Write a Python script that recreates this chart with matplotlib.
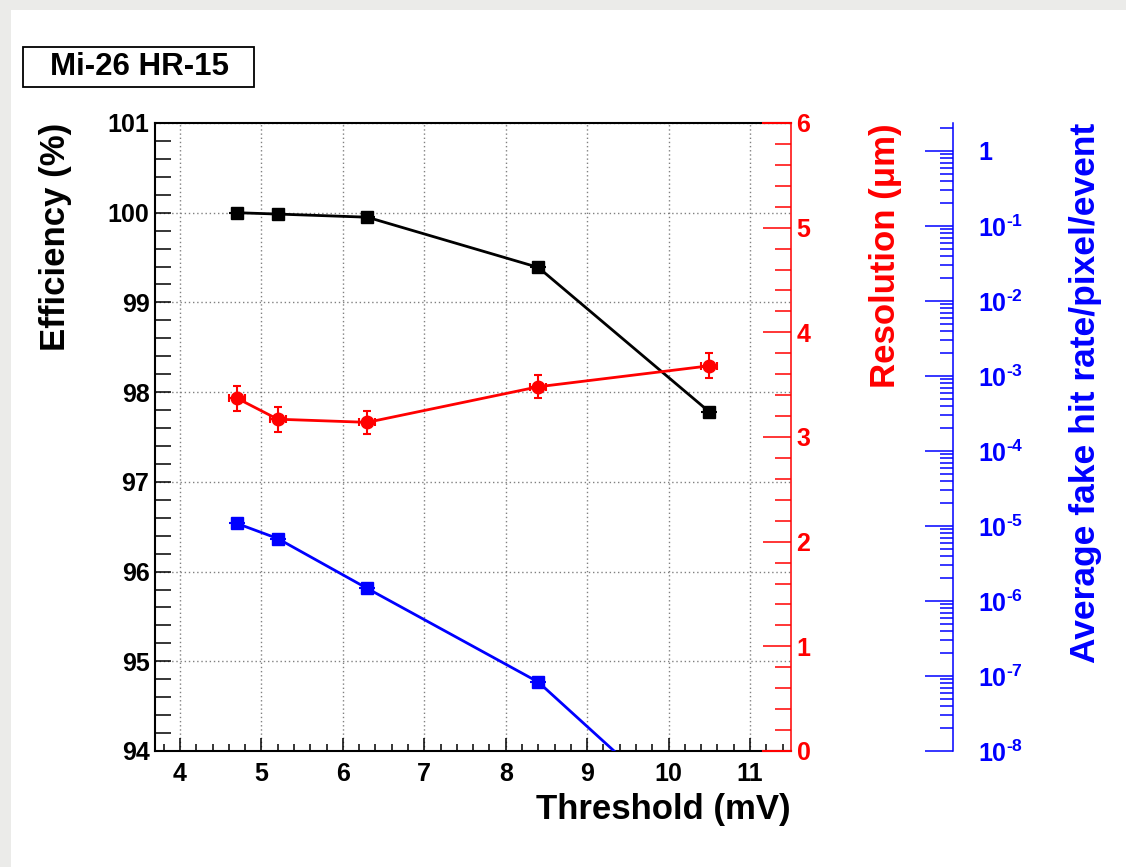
import numpy as np
import matplotlib
matplotlib.use('Agg')
import matplotlib.pyplot as plt
from matplotlib.patches import Rectangle
from matplotlib.ticker import MultipleLocator, LogLocator, FuncFormatter, NullFormatter

plt.rcParams['font.family'] = ['Liberation Sans', 'DejaVu Sans']
plt.rcParams['font.weight'] = 'bold'
plt.rcParams['mathtext.fontset'] = 'custom'
plt.rcParams['mathtext.rm'] = 'Liberation Sans:bold'
plt.rcParams['mathtext.bf'] = 'Liberation Sans:bold'
plt.rcParams['mathtext.it'] = 'Liberation Sans:bold'

# measurements vs discriminator threshold
threshold = [4.7, 5.2, 6.3, 8.4, 10.5]
threshold_err = [0.1, 0.1, 0.1, 0.1, 0.1]
efficiency = [100.0, 99.985, 99.95, 99.39, 97.78]
efficiency_err = [0.02, 0.02, 0.02, 0.02, 0.03]
resolution = [3.37, 3.17, 3.14, 3.48, 3.68]
resolution_err = [0.12, 0.12, 0.11, 0.11, 0.12]
fake_rate = [1.08e-5, 6.8e-6, 1.47e-6, 8.3e-8, 7e-10]

W, H = 1126, 867
fig = plt.figure(figsize=(W / 100, H / 100), dpi=100)
fig.patch.set_facecolor('#ebebe9')
fig.add_artist(Rectangle((11 / W, 0), (W - 11) / W, (H - 10) / H,
                         transform=fig.transFigure, facecolor='white',
                         edgecolor='none', zorder=-10))

ax = fig.add_axes([155 / W, 1 - 751 / H, 636 / W, 628 / H])
ax.set_xlim(3.693, 11.503)
ax.set_ylim(94, 101)
ax.xaxis.set_major_locator(MultipleLocator(1))
ax.xaxis.set_minor_locator(MultipleLocator(0.2))
ax.yaxis.set_major_locator(MultipleLocator(1))
ax.yaxis.set_minor_locator(MultipleLocator(0.2))
ax.tick_params(axis='x', which='major', direction='in', length=9.4, width=1.1,
               labelsize=18, pad=8, top=False)
ax.tick_params(axis='x', which='minor', direction='in', length=5, width=1.1, top=False)
ax.tick_params(axis='y', which='both', direction='in', length=11.5, width=1.1,
               labelsize=18, pad=4, right=False)
ax.grid(True, which='major', color='#808080', linestyle=(0, (1, 2)), linewidth=1.0)
ax.set_axisbelow(True)
ax.spines['right'].set_visible(False)
for s in ('top', 'bottom', 'left'):
    ax.spines[s].set_linewidth(1.5)

# red frame pieces where the resolution axis closes the box
for yy in (0, 1):
    ax.plot([11.16, 11.503], [yy, yy], transform=ax.get_xaxis_transform(),
            color='red', lw=1.5, clip_on=False, zorder=10)

ax.errorbar(threshold, efficiency, xerr=threshold_err, yerr=efficiency_err,
            fmt='-s', color='black', ms=9, lw=2, elinewidth=1.5, capsize=0, zorder=5)

# resolution axis
axr = ax.twinx()
axr.set_ylim(0, 6)
for s in ('top', 'bottom', 'left'):
    axr.spines[s].set_visible(False)
axr.spines['right'].set_color('red')
axr.spines['right'].set_linewidth(1.1)
axr.yaxis.set_major_locator(MultipleLocator(1))
axr.yaxis.set_minor_locator(MultipleLocator(0.2))
axr.tick_params(axis='y', which='major', direction='in', length=20, width=1.1,
                colors='red', labelsize=18, pad=4)
axr.tick_params(axis='y', which='minor', direction='in', length=11.5, width=1.1,
                colors='red')
axr.errorbar(threshold, resolution, xerr=threshold_err, yerr=resolution_err,
             fmt='-o', color='red', ms=9, lw=2, elinewidth=1.5, capsize=3,
             capthick=1.5, zorder=5)

# fake hit rate axis (log)
axb = ax.twinx()
axb.spines['right'].set_position(('axes', 798 / 636))
for s in ('top', 'bottom', 'left'):
    axb.spines[s].set_visible(False)
axb.spines['right'].set_color('blue')
axb.spines['right'].set_linewidth(1.1)
axb.set_yscale('log')
axb.set_ylim(1e-8, 2.36)
axb.yaxis.set_major_locator(LogLocator(base=10, numticks=20))
axb.yaxis.set_minor_locator(LogLocator(base=10, subs=np.arange(2, 10), numticks=20))
axb.yaxis.set_minor_formatter(NullFormatter())


def fmt_pow(v, pos):
    e = int(round(np.log10(v)))
    if e == 0:
        return '1'
    return '$10^{\u2010%d}$' % abs(e)


axb.yaxis.set_major_formatter(FuncFormatter(fmt_pow))
axb.tick_params(axis='y', which='major', direction='in', length=20, width=1.1,
                colors='blue', labelsize=18, pad=18)
axb.tick_params(axis='y', which='minor', direction='in', length=9.4, width=1.1,
                colors='blue')
axb.errorbar(threshold, fake_rate, xerr=threshold_err, fmt='-s', color='blue',
             ms=9, lw=2, elinewidth=1.5, capsize=0, zorder=5)

# axis titles
fig.text(55 / W, 1 - 123 / H, 'Efficiency (%)', rotation=90, ha='center',
         va='top', fontsize=25)
fig.text(886 / W, 1 - 123 / H, 'Resolution (μm)', rotation=90, ha='center',
         va='top', fontsize=25, color='red')
fig.text(1085 / W, 1 - 123 / H, 'Average fake hit rate/pixel/event', rotation=90,
         ha='center', va='top', fontsize=25.5, color='blue')
fig.text(791 / W, 1 - 809 / H, 'Threshold (mV)', ha='right', va='center', fontsize=25)

# sensor label box
fig.add_artist(Rectangle((23 / W, 1 - 87 / H), 231 / W, 40 / H,
                         transform=fig.transFigure, facecolor='white',
                         edgecolor='black', lw=1.3))
fig.text(139 / W, 1 - 67 / H, 'Mi-26 HR-15', ha='center', va='center', fontsize=22.5)

fig.savefig('out.png', dpi=100, facecolor=fig.get_facecolor())
